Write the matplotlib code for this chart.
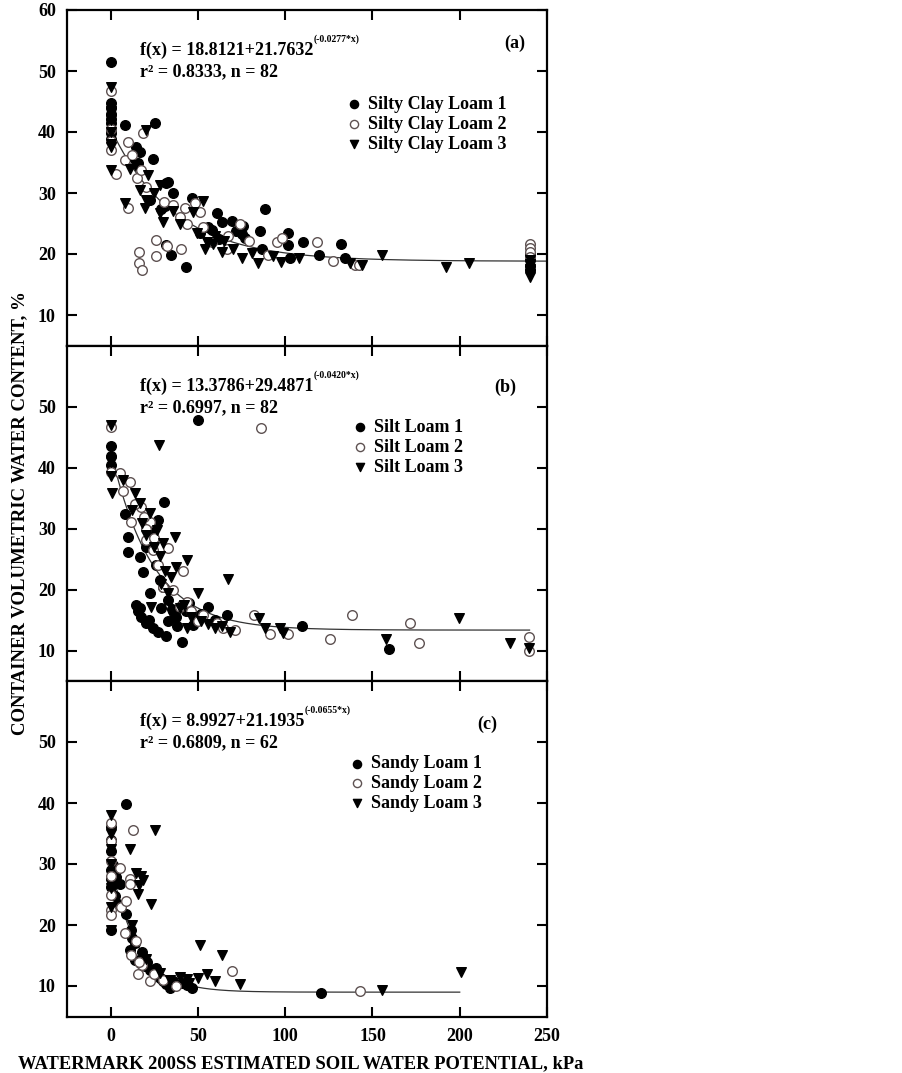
import matplotlib
matplotlib.use("Agg")
import matplotlib.pyplot as plt
import numpy as np

plt.rcParams['font.family'] = ['Liberation Serif', 'DejaVu Serif']
plt.rcParams['font.weight'] = 'bold'

# ---------------- Panel (a): Silty Clay Loam ----------------
a1_x = [0, 0, 0, 0, 0, 0, 0, 0, 0, 8, 25.3, 14.8, 16.7, 24.3, 15.5, 32, 33, 35.8, 22.4, 31, 29,
        46.4, 60.7, 64, 69.7, 75.7, 88.5, 85.6, 101.9, 101.5, 110.2, 132.2, 134.5, 119.1, 102.9,
        86.6, 77, 57.9, 51.1, 32, 34.5, 43.1, 56, 62, 72, 75, 240, 240, 240, 240]
a1_y = [51.5, 44.7, 44.0, 43.0, 42.2, 41.5, 40.5, 39.8, 38.8, 41.1, 41.5, 37.6, 36.8, 35.5, 35.0,
        31.6, 31.8, 30.0, 28.9, 27.8, 27.4, 29.1, 26.8, 25.3, 25.4, 24.6, 27.3, 23.8, 23.4, 21.5,
        21.9, 21.6, 19.3, 19.8, 19.4, 20.8, 22.7, 23.9, 23.4, 21.5, 19.8, 17.9, 24.5, 22.5, 23.8,
        23.2, 20.0, 19.0, 18.0, 17.3]

a2_x = [0, 0, 0, 0, 2.9, 10, 10, 8.4, 12.4, 18.6, 15.1, 17.6, 16.1, 16.1, 18.2, 25.9, 25.9, 32.4,
        40.2, 30.5, 39.7, 42.5, 48.3, 51.1, 43.5, 53, 67.4, 74.1, 79.5, 66.5, 90.4, 95.2, 98.1,
        118.2, 127.4, 140.2, 142.1, 20, 36, 58, 240, 240, 240, 240]
a2_y = [46.7, 40.5, 38.6, 37.0, 33.1, 27.5, 38.4, 35.4, 36.2, 39.8, 32.4, 33.8, 20.4, 18.6, 17.3,
        22.3, 19.7, 21.3, 20.8, 28.6, 26.1, 27.5, 28.3, 26.9, 24.9, 24.5, 23.0, 25.0, 22.2, 20.9,
        19.8, 21.9, 22.7, 22.0, 18.9, 18.2, 18.2, 31.0, 28.0, 22.0, 21.7, 21.0, 20.3, 19.5]

a3_x = [0, 0, 0, 0, 0, 0, 0, 8, 20.5, 10.9, 13.8, 16.7, 21.4, 28.2, 20.5, 19.5, 30.1, 28.2, 52.7,
        47.3, 49.2, 54, 58.8, 63.6, 70.3, 75.1, 80.9, 84.7, 93.3, 97.7, 108.2, 137.4, 144.1, 155.6,
        191.9, 205.3, 60, 55, 65, 36, 40, 25, 240, 240, 240, 240, 240]
a3_y = [47.3, 43.5, 42.0, 40.0, 38.0, 37.5, 33.8, 28.3, 40.4, 34.0, 34.6, 30.5, 33.0, 31.3, 28.9,
        27.5, 25.3, 26.7, 28.7, 26.9, 23.4, 20.9, 21.7, 20.4, 20.9, 19.4, 20.1, 18.5, 19.6, 18.7,
        19.3, 18.5, 18.2, 19.8, 17.8, 18.5, 23.0, 22.0, 22.2, 27.0, 25.0, 30.0, 19.0, 18.3, 17.5,
        16.8, 16.3]

# ---------------- Panel (b): Silt Loam ----------------
b1_x = [50.2, 0, 0, 0, 30.5, 27.2, 8, 10, 10, 16.7, 18.6, 22.4, 14.4, 16.7, 17.6, 20.5, 24.3, 27.2,
        31.6, 40.6, 55.9, 66.5, 109.6, 159.4, 32.9, 37.7, 47.3, 43, 52, 60, 28.2, 26, 20, 24, 35,
        45, 30, 15.5, 22, 33, 38, 41, 49, 29]
b1_y = [47.8, 43.6, 42.0, 40.5, 34.4, 31.4, 32.4, 28.6, 26.2, 25.4, 22.9, 19.4, 17.5, 17.0, 15.6,
        14.5, 13.7, 13.1, 12.4, 11.5, 17.2, 15.9, 14.0, 10.2, 18.3, 15.6, 14.2, 16.5, 16.0, 15.0,
        21.6, 24.0, 27.0, 29.5, 16.8, 17.8, 20.5, 16.5, 15.0, 14.8, 14.0, 17.5, 15.0, 17.0]

b2_x = [0, 86.2, 0, 5.2, 10.9, 7.1, 11.9, 17.6, 22.4, 20.5, 32.9, 41.7, 35.8, 39.7, 53, 60.7,
        64.5, 71.3, 82.4, 91.4, 101.5, 125.5, 138.3, 171.5, 176.6, 239.8, 239.8, 25, 20, 27, 30,
        46, 14, 19, 24, 44, 50]
b2_y = [46.7, 46.5, 39.3, 39.1, 37.7, 36.1, 31.1, 33.6, 31.1, 28.1, 26.8, 23.0, 20.0, 17.2, 15.8,
        14.5, 13.7, 13.4, 15.9, 12.7, 12.7, 11.9, 15.8, 14.5, 11.3, 12.3, 10.0, 28.5, 30.0, 24.0,
        20.5, 16.5, 34.0, 32.0, 26.5, 18.0, 14.8]

b3_x = [0, 27.8, 0, 0.8, 7.1, 13.8, 16.7, 22.4, 26.3, 36.8, 30.1, 43.5, 37.7, 34.5, 67.4, 23.4,
        50.2, 46, 43.5, 56, 60, 68.4, 85.2, 88.5, 97.1, 99, 157.5, 199.6, 228.9, 239.8, 28, 33, 40,
        18, 25, 31, 0, 12, 20, 29, 36, 42, 52, 64]
b3_y = [47.0, 43.7, 38.6, 35.8, 38.0, 35.8, 34.2, 32.5, 29.8, 28.7, 27.6, 24.9, 23.8, 22.1, 21.7,
        17.2, 19.4, 15.5, 13.7, 14.3, 13.7, 13.1, 15.4, 13.7, 13.7, 12.9, 12.0, 15.4, 11.3, 10.4,
        25.5, 19.5, 17.0, 31.0, 27.0, 23.0, 41.0, 33.0, 29.0, 21.0, 15.5, 17.5, 14.8, 14.0]

# ---------------- Panel (c): Sandy Loam ----------------
c1_x = [9, 0, 0, 0, 0, 1.3, 3.3, 5.2, 0, 2.3, 9, 11.9, 10.9, 13.8, 16.7, 19.5, 22.4, 25.3, 28.2,
        32, 33.9, 46.4, 40.6, 120.7, 18, 14, 26, 36, 44, 0, 0, 4, 12, 21, 30]
c1_y = [39.8, 36.0, 32.1, 29.0, 19.2, 29.9, 27.8, 26.7, 26.3, 24.8, 21.8, 19.2, 15.9, 14.3, 13.8,
        13.2, 12.7, 11.9, 11.3, 10.3, 9.7, 9.6, 10.5, 8.9, 15.5, 17.0, 13.0, 10.8, 10.2, 34.0,
        27.5, 23.5, 17.8, 14.0, 10.8]

c2_x = [12.8, 0, 0, 0, 0, 0, 5.6, 11.3, 11, 6.1, 8, 14.8, 11.9, 15.7, 22.4, 37.7, 69.7, 143.1,
        18, 25, 30, 0, 0, 16, 9]
c2_y = [35.6, 36.7, 33.8, 30.5, 22.4, 21.6, 29.3, 27.5, 26.7, 22.9, 18.7, 17.3, 15.1, 11.9, 10.8,
        10.0, 12.4, 9.2, 13.5, 12.0, 11.0, 25.0, 28.0, 14.0, 24.0]

c3_x = [0, 0, 0, 0, 25.3, 10.9, 14.8, 17.6, 18.6, 15.7, 23.4, 0.4, 51.1, 64, 74.1, 59.8, 55, 50.2,
        43.5, 40, 155.2, 200.6, 12, 20, 28, 34, 0, 0, 16, 45]
c3_y = [38.0, 35.0, 32.5, 30.0, 35.6, 32.4, 28.6, 28.1, 27.3, 25.1, 23.5, 19.2, 16.7, 15.1, 10.3,
        10.8, 11.9, 11.3, 11.1, 11.5, 9.4, 12.3, 20.0, 14.5, 12.2, 11.0, 26.0, 23.0, 26.5, 10.5]

panels = [
    dict(s=[(a1_x, a1_y), (a2_x, a2_y), (a3_x, a3_y)],
         names=["Silty Clay Loam 1", "Silty Clay Loam 2", "Silty Clay Loam 3"],
         fit=(18.8121, 21.7632, 0.0277), xmax=250, tag="(a)",
         eq1="f(x) = 18.8121+21.7632", sup="(-0.0277*x)", eq2="r² = 0.8333, n = 82",
         tagpos=(0.91, 0.90), leg=(0.56, 0.735), yt=[10, 20, 30, 40, 50, 60]),
    dict(s=[(b1_x, b1_y), (b2_x, b2_y), (b3_x, b3_y)],
         names=["Silt Loam 1", "Silt Loam 2", "Silt Loam 3"],
         fit=(13.3786, 29.4871, 0.0420), xmax=240, tag="(b)",
         eq1="f(x) = 13.3786+29.4871", sup="(-0.0420*x)", eq2="r² = 0.6997, n = 82",
         tagpos=(0.89, 0.875), leg=(0.572, 0.773), yt=[10, 20, 30, 40, 50]),
    dict(s=[(c1_x, c1_y), (c2_x, c2_y), (c3_x, c3_y)],
         names=["Sandy Loam 1", "Sandy Loam 2", "Sandy Loam 3"],
         fit=(8.9927, 21.1935, 0.0655), xmax=200, tag="(c)",
         eq1="f(x) = 8.9927+21.1935", sup="(-0.0655*x)", eq2="r² = 0.6809, n = 62",
         tagpos=(0.855, 0.87), leg=(0.566, 0.770), yt=[10, 20, 30, 40, 50]),
]

fig = plt.figure(figsize=(9.02, 10.73), dpi=100)
L, W = 67 / 902, 480 / 902
tops = [10, 345.7, 681]
H = 335.5
FS = 13

styles = [
    dict(marker='o', facecolor='black', edgecolor='black'),
    dict(marker='o', facecolor='white', edgecolor='#5e5252'),
    dict(marker='v', facecolor='black', edgecolor='black'),
]

for i, p in enumerate(panels):
    ax = fig.add_axes([L, 1 - (tops[i] + H) / 1073, W, H / 1073])
    for (xs, ys), st, nm in zip(p['s'], styles, p['names']):
        ax.scatter(xs, ys, s=48, marker=st['marker'], facecolors=st['facecolor'],
                   edgecolors=st['edgecolor'], linewidths=1.0, label=nm, zorder=3)
    a, b, k = p['fit']
    xx = np.linspace(0, p['xmax'], 300)
    ax.plot(xx, a + b * np.exp(-k * xx), color='#333333', lw=0.9, zorder=2)
    ax.set_xlim(-25, 250)
    ax.set_ylim(5, 60)
    ax.set_xticks([0, 50, 100, 150, 200, 250])
    ax.set_yticks(p['yt'])
    ax.tick_params(direction='in', top=True, right=True, length=7, width=1.5,
                   labelsize=FS, pad=8)
    for sp in ax.spines.values():
        sp.set_linewidth(1.6)
    for lab in ax.get_yticklabels() + ax.get_xticklabels():
        lab.set_fontweight('bold')
    if i < 2:
        ax.tick_params(labelbottom=False)
    else:
        ax.set_xlabel("WATERMARK 200SS ESTIMATED SOIL WATER POTENTIAL, kPa",
                      fontsize=13.3, fontweight='bold')
        ax.xaxis.set_label_coords(0.487, -0.115)
    t1 = ax.text(0.152, 0.88, p['eq1'], transform=ax.transAxes, fontsize=FS,
                 fontweight='bold', va='center', ha='left')
    ax.annotate(p['sup'], xy=(1.0, 0.85), xycoords=t1, fontsize=7,
                fontweight='bold', va='bottom', ha='left')
    ax.text(0.152, 0.815, p['eq2'], transform=ax.transAxes, fontsize=FS,
            fontweight='bold', va='center', ha='left')
    ax.text(p['tagpos'][0], p['tagpos'][1], p['tag'], transform=ax.transAxes,
            fontsize=FS, fontweight='bold', va='center', ha='left')
    ax.legend(loc='upper left', bbox_to_anchor=(p['leg'][0], p['leg'][1] + 0.035),
              frameon=False, handletextpad=0.3, labelspacing=0.15,
              borderpad=0, handlelength=1.0, markerscale=0.85,
              prop=dict(weight='bold', size=FS))

fig.text(20 / 902, 1 - 513 / 1073, "CONTAINER VOLUMETRIC WATER CONTENT, %", rotation=90,
         ha='center', va='center', fontsize=13.5, fontweight='bold')

fig.savefig("out.png", dpi=100)
